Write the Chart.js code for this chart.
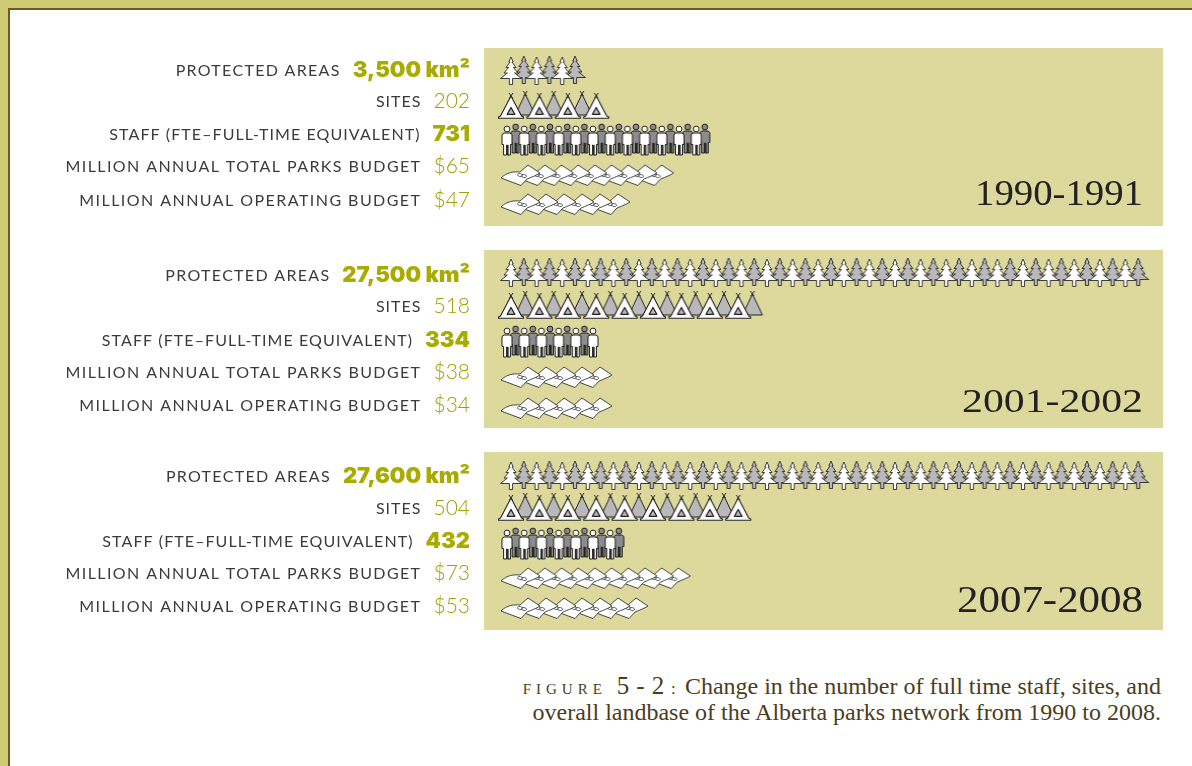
<!DOCTYPE html>
<html><head><meta charset="utf-8">
<script src="https://cdn.jsdelivr.net/npm/chart.js@4"></script>
<style>
html,body{margin:0;padding:0;width:1192px;height:766px;background:#fff;overflow:hidden}
#frameA{position:absolute;left:0;top:0;width:1192px;height:766px;box-sizing:border-box;border-left:8px solid #CFCB74;border-top:8px solid #CFCB74}
#frameB{position:absolute;left:8px;top:8px;width:1184px;height:758px;box-sizing:border-box;border-left:2px solid #6A5A2B;border-top:2px solid #6A5A2B}
.wrap{position:absolute;left:0;width:1192px;height:178px}
.wrap canvas{display:block}
#cap{position:absolute;right:31px;top:673px;text-align:right;font-family:"Liberation Serif",serif;font-size:24px;line-height:26px;color:#4A3D20;white-space:nowrap}
#cap .f{font-size:15px;line-height:0;letter-spacing:5px}
#cap .n{font-size:25px;line-height:0;letter-spacing:0.4px;margin-left:4px}
#cap .c{font-size:17px;line-height:0;margin:0 5px 0 2px}
</style></head><body>
<div id="frameA"></div><div id="frameB"></div>
<div id="charts"></div>
<div id="cap"><span class="f">FIGURE</span> <span class="n">5 - 2</span><span class="c"> : </span>Change in the number of full time staff, sites, and<br>overall landbase of the Alberta parks network from 1990 to 2008.</div>
<script>
// ---- data ----
const periods = ["1990-1991", "2001-2002", "2007-2008"];
const categories = ["PROTECTED AREAS", "SITES", "STAFF (FTE\u2013FULL-TIME EQUIVALENT)", "MILLION ANNUAL TOTAL PARKS BUDGET", "MILLION ANNUAL OPERATING BUDGET"];
const protectedAreas = [3500, 27500, 27600];
const sites = [202, 518, 504];
const staff = [731, 334, 432];
const totalBudget = [65, 38, 73];
const operatingBudget = [47, 34, 53];
// pictogram icons shown per row
const treeIcons = [6, 50, 50];
const tentIcons = [7, 18, 17];
const personIcons = [24, 11, 14];
const totalBudgetIcons = [9, 5, 10];
const operatingBudgetIcons = [6, 5, 7];

// ---- layout and style ----
const PANEL_LEFT = 484, PANEL_RIGHT = 1163, PANEL_H = 178;
const panelTops = [48, 250, 452];
const ROW_PX = 34, FIRST_ROW_PX = 22;
const rowNudge = [[0,2,2,3,-2],[0,0,2,3,0],[1,0,2,2,-2]];
const labelPx = [[22,53,86,118,152],[25,56,90,122,155],[24,56,89,121,154]];
const labelSpacing = [1.3, 1.0, 1.08, 1.4, 1.45];
const yearStyle = [{w:168,b:157,s:35},{w:181,b:162,s:33},{w:186,b:160,s:37}];
const totalSteps = [16.7,18,16.7], opSteps = [18,18,18];
const VALUE_COLOR = "#A9AB00", VALUE_LIGHT = "#9FA100", LABEL_COLOR = "#3B3B3B", PANEL_COLOR = "#DDD89C", INK = "#2A2A2A";
const WHITE = "#FFFFFF", GRAY = "#B9B9BB", DARKGRAY = "#8C8C8E";

function sprite(w, h, draw) {
  const c = document.createElement("canvas");
  c.width = w; c.height = h;
  const g = c.getContext("2d");
  g.translate(w / 2, h / 2);
  g.lineJoin = "round";
  draw(g);
  return c;
}
function poly(g, pts) { g.beginPath(); pts.forEach((p, i) => i ? g.lineTo(p[0], p[1]) : g.moveTo(p[0], p[1])); g.closePath(); }
function treeSprite(fill, dy) {
  return sprite(26, 34, g => {
    g.translate(0, dy - 14);
    const outline = [[0,0],[2.2,5],[0.9,5],[5,10.5],[2.4,10.5],[7,16],[3.6,16],[10.5,21.5],[1.6,21.5],[1.6,27.5],[-1.6,27.5],[-1.6,21.5],[-10.5,21.5],[-3.6,16],[-7,16],[-2.4,10.5],[-5,10.5],[-0.9,5],[-2.2,5]];
    poly(g, outline); g.fillStyle = fill; g.fill();
    g.strokeStyle = INK; g.lineWidth = 0.9; g.stroke();
  });
}
function tentSprite(white) {
  return sprite(32, 34, g => {
    g.strokeStyle = "#222"; g.lineWidth = 1;
    if (white) {
      g.translate(0, -10);
      g.beginPath(); g.moveTo(-2,-3); g.lineTo(1.5,2); g.moveTo(2,-3); g.lineTo(-1.5,2); g.stroke();
      poly(g, [[0,0],[10.5,20],[12.5,21],[12.5,22.3],[-12.5,22.3],[-12.5,21],[-10.5,20]]);
      g.fillStyle = WHITE; g.fill(); g.lineWidth = 1.1; g.stroke();
      poly(g, [[0,11.5],[3.8,18.3],[-3.8,18.3]]); g.fillStyle = GRAY; g.fill(); g.lineWidth = 1.3; g.stroke();
    } else {
      g.translate(0, -12);
      g.beginPath(); g.moveTo(-2,-3); g.lineTo(1.5,2); g.moveTo(2,-3); g.lineTo(-1.5,2); g.stroke();
      poly(g, [[0,0],[10,21],[-10,21]]);
      g.fillStyle = GRAY; g.fill(); g.stroke();
    }
  });
}
function personSprite(white) {
  return sprite(18, 36, g => {
    g.translate(0, white ? -14 : -16);
    const fill = white ? WHITE : DARKGRAY;
    g.strokeStyle = "#1E1E1E"; g.lineWidth = 1;
    g.beginPath(); g.arc(0, 3, 2.9, 0, Math.PI * 2); g.fillStyle = fill; g.fill(); g.stroke();
    poly(g, [[-3,7],[3,7],[5,8.5],[5,18.5],[3.4,18.5],[3.4,29],[0.4,29],[0.4,19],[-0.4,19],[-0.4,29],[-3.4,29],[-3.4,18.5],[-5,18.5],[-5,8.5]]);
    g.fill(); g.stroke();
    g.fillStyle = "#222"; g.fillRect(0.6, 19, 1, 10);
  });
}
function billSprite() {
  return sprite(46, 24, g => {
    g.beginPath();
    g.moveTo(-21, 3);
    g.bezierCurveTo(-15, -3, -8, -3.5, -2, -3);
    g.lineTo(6, -10);
    g.lineTo(18, -2);
    g.bezierCurveTo(14, 0.5, 10, 2, 5, 4);
    g.lineTo(-1, 10.5);
    g.closePath();
    g.fillStyle = WHITE; g.fill();
    g.strokeStyle = "#333"; g.lineWidth = 0.9; g.stroke();
    g.lineWidth = 0.9; g.strokeStyle = "#555";
    g.beginPath(); g.ellipse(-2, 0, 2.6, 1.5, 0.2, 0, Math.PI * 2); g.moveTo(4.6, 1); g.ellipse(2, 1, 2.6, 1.5, 0.2, 0, Math.PI * 2); g.stroke();
  });
}
const sprites = {
  treeW: treeSprite(WHITE, 1), treeG: treeSprite(GRAY, 0),
  tentW: tentSprite(true), tentG: tentSprite(false),
  personW: personSprite(true), personG: personSprite(false),
  bill: billSprite()
};

function hiddenAxis(firstCenterPx, step) {
  const min = -(firstCenterPx - PANEL_LEFT) / step;
  return { type: "linear", display: false, min, max: min + (PANEL_RIGHT - PANEL_LEFT) / step, grid: { display: false } };
}
function iconData(count, row, keep) {
  const pts = [];
  for (let i = 0; i < count; i++) if (keep(i)) pts.push({ x: i, y: row });
  return pts;
}
function ds(axis, data, style) {
  return { xAxisID: axis, yAxisID: "y", data, pointStyle: style, pointRadius: 12, pointBorderWidth: 0, showLine: false, clip: false };
}

const panelPlugin = {
  id: "panel",
  beforeDraw(chart) {
    const g = chart.ctx;
    g.save(); g.fillStyle = PANEL_COLOR;
    g.fillRect(PANEL_LEFT, 0, PANEL_RIGHT - PANEL_LEFT, PANEL_H);
    g.restore();
  }
};
const textPlugin = {
  id: "rowText",
  afterDraw(chart, args, o) {
    const g = chart.ctx, p = o.panel;
    g.save();
    g.textBaseline = "middle";
    const values = [protectedAreas[p].toLocaleString("en-US") + " km\u00B2", String(sites[p]), String(staff[p]), "$" + totalBudget[p], "$" + operatingBudget[p]];
    categories.forEach((name, r) => {
      const y = labelPx[p][r];
      const strong = r === 0 || r === 2;
      g.letterSpacing = "0px";
      g.font = strong ? "900 22px Inter" : "300 21px Lato";
      g.fillStyle = strong ? VALUE_COLOR : VALUE_LIGHT; g.textAlign = "right";
      g.fillText(values[r], 470, y);
      const vw = g.measureText(values[r]).width;
      g.font = "400 16px Lato";
      g.letterSpacing = labelSpacing[r] + "px";
      g.fillStyle = LABEL_COLOR;
      g.fillText(name, 470 - vw - 12, y + 1);
    });
    g.letterSpacing = "0px";
    const ys = yearStyle[p];
    g.font = ys.s + "px 'Liberation Serif'";
    const tw = g.measureText(periods[p]).width;
    g.textAlign = "left"; g.textBaseline = "alphabetic";
    g.translate(1143 - ys.w, ys.b);
    g.scale(ys.w / tw, 1);
    g.fillStyle = "#222";
    g.fillText(periods[p], 0, 0);
    g.restore();
  }
};

periods.forEach((period, p) => {
  const wrap = document.createElement("div");
  wrap.className = "wrap"; wrap.style.top = panelTops[p] + "px";
  const cv = document.createElement("canvas");
  cv.width = 1192; cv.height = PANEL_H;
  cv.style.width = "1192px"; cv.style.height = PANEL_H + "px";
  wrap.appendChild(cv);
  document.getElementById("charts").appendChild(wrap);
  const rowY = r => r + rowNudge[p][r] / ROW_PX;
  const even = i => i % 2 === 0, odd = i => i % 2 === 1, all = () => true;
  // Chart.js paints the first dataset last, so the white icons come first to sit in front.
  const datasets = [
    ds("xTree", iconData(treeIcons[p], rowY(0), even), sprites.treeW),
    ds("xTree", iconData(treeIcons[p], rowY(0), odd), sprites.treeG),
    ds("xTent", iconData(tentIcons[p], rowY(1), even), sprites.tentW),
    ds("xTent", iconData(tentIcons[p], rowY(1), odd), sprites.tentG),
    ds("xStaff", iconData(personIcons[p], rowY(2), even), sprites.personW),
    ds("xStaff", iconData(personIcons[p], rowY(2), odd), sprites.personG),
    ds("xTotal", iconData(totalBudgetIcons[p], rowY(3), all).reverse(), sprites.bill),
    ds("xOper", iconData(operatingBudgetIcons[p], rowY(4), all).reverse(), sprites.bill)
  ];
  const yMin = -FIRST_ROW_PX / ROW_PX;
  new Chart(cv, {
    type: "scatter",
    data: { datasets },
    plugins: [panelPlugin, textPlugin],
    options: {
      responsive: false, animation: false, events: [],
      layout: { autoPadding: false, padding: { left: PANEL_LEFT, right: 1192 - PANEL_RIGHT, top: 0, bottom: 0 } },
      plugins: { legend: { display: false }, tooltip: { enabled: false }, rowText: { panel: p } },
      scales: {
        xTree: hiddenAxis(511, 12.8),
        xTent: hiddenAxis(511, 14.2),
        xStaff: hiddenAxis(507, 8.6),
        xTotal: hiddenAxis(522, totalSteps[p]),
        xOper: hiddenAxis(522, opSteps[p]),
        y: { type: "linear", display: false, reverse: true, min: yMin, max: yMin + PANEL_H / ROW_PX, grid: { display: false } }
      }
    }
  });
});
</script>
</body></html>
